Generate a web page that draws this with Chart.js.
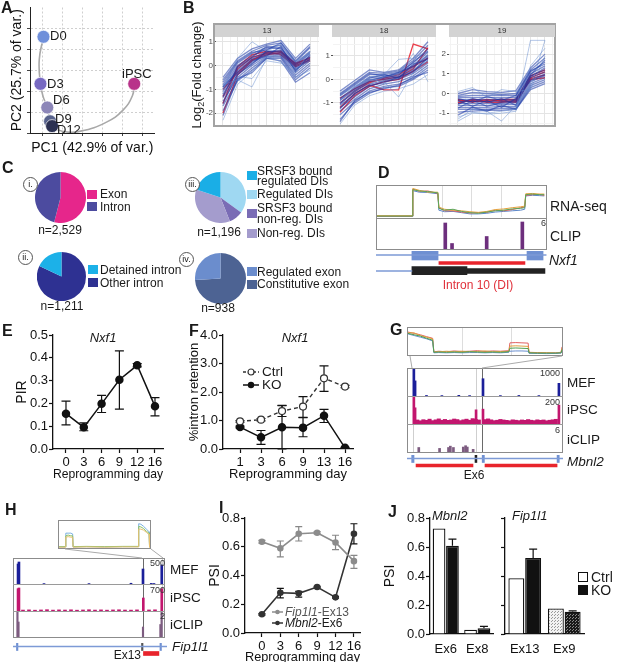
<!DOCTYPE html>
<html>
<head>
  <meta charset="UTF-8">
  <title>Reprogramming figure</title>
  <script src="https://cdn.jsdelivr.net/npm/chart.js@4.4.1/dist/chart.umd.min.js"></script>
  <style>
    body { margin: 0; background: #fff; }
    #fig { position: relative; width: 617px; height: 662px; overflow: hidden;
           font-family: Arial, "Liberation Sans", Helvetica, sans-serif; color: #1a1a1a; }
    #fig canvas, #fig div, #fig svg { position: absolute; }
    .t { white-space: nowrap; line-height: 1; }
  </style>
</head>
<body>
<div id="fig"></div>
<script>
// ---------- data ----------
// A: PCA
const pcaNames = ['D0', 'D3', 'D6', 'D9', 'D12', 'iPSC'];
const pcaX = [0.07, -0.08, 0.26, 0.40, 0.50, 4.59];
const pcaY = [4.6, 2.35, 1.22, 0.56, 0.33, 2.35];
const trajX = [0.07, -0.14, -0.08, 0.05, 0.26, 0.40, 0.50, 1.0, 1.92, 3.21, 4.02, 4.5, 4.59];
const trajY = [4.6, 3.5, 2.35, 1.75, 1.22, 0.56, 0.33, 0.08, 0.09, 0.52, 1.08, 1.78, 2.35];

// B: clusters 13 / 18 / 19, 7 time points
const c13Blue = [
  [-0.5,0.3,0.7,0.9,1.05,0.3,0.9], [-0.6,0.2,0.6,0.85,0.95,0.2,0.8], [-0.8,0.1,0.5,0.75,0.85,0.1,0.6],
  [-0.9,0.0,0.4,0.7,0.75,0.0,0.5], [-1.0,-0.1,0.3,0.6,0.65,-0.05,0.4], [-1.1,-0.2,0.25,0.55,0.6,-0.1,0.35],
  [-1.2,-0.3,0.15,0.5,0.5,-0.2,0.3], [-1.35,-0.4,0.1,0.45,0.45,-0.3,0.2], [-1.5,-0.5,0.0,0.4,0.4,-0.4,0.1],
  [-1.7,-0.6,-0.1,0.35,0.35,-0.5,0.0], [-1.9,-0.65,-0.2,0.3,0.3,-0.6,-0.1], [-2.1,-0.55,-0.3,0.3,0.2,-0.7,-0.3],
  [-0.7,0.15,0.55,0.65,0.95,0.15,0.75], [-1.3,-0.05,0.35,0.8,0.7,0.05,0.55], [-0.9,-0.25,0.2,0.4,0.8,-0.25,0.45],
  [-1.6,-0.35,0.05,0.6,0.55,-0.15,0.25]
];
const c13Faint = [
  [-2.3,-0.8,-0.25,0.4,0.15,-0.5,-0.2], [-1.0,0.3,1.0,0.6,0.9,0.2,0.5],
  [-0.8,-0.6,-0.9,0.3,0.5,-0.1,0.2], [-1.2,-0.45,-0.55,0.2,0.1,-0.3,0.6]
];
const c13Red = [
  [-1.3,-0.15,0.35,0.5,0.5,0.0,0.25], [-1.0,-0.3,0.25,0.45,0.55,0.1,0.3],
  [-1.6,-0.05,0.45,0.6,0.45,-0.05,0.2], [-2.0,-0.4,0.2,0.55,0.6,0.05,0.35]
];
const c18Blue = [
  [-0.5,-0.05,0.4,0.3,0.4,0.9,1.6], [-0.6,-0.15,0.3,0.25,0.35,0.8,1.45], [-0.7,-0.25,0.2,0.2,0.3,0.7,1.3],
  [-0.8,-0.35,0.1,0.1,0.25,0.6,1.15], [-0.9,-0.45,0.0,0.05,0.15,0.5,1.0], [-1.0,-0.55,-0.1,0.0,0.1,0.4,0.9],
  [-1.1,-0.65,-0.2,-0.05,0.05,0.35,0.8], [-1.2,-0.75,-0.3,-0.1,0.0,0.25,0.7], [-1.35,-0.85,-0.4,-0.2,-0.1,0.15,0.6],
  [-1.5,-0.95,-0.5,-0.3,-0.2,0.05,0.5], [-1.7,-1.0,-0.6,-0.35,-0.3,0.0,0.4], [-1.8,-0.9,-0.55,-0.4,-0.25,0.1,0.3],
  [-0.65,-0.2,0.25,0.15,0.2,0.75,1.2], [-1.05,-0.5,-0.05,0.1,0.3,0.55,1.05], [-1.25,-0.6,-0.25,-0.15,0.1,0.3,0.95],
  [-0.85,-0.4,0.05,0.2,0.05,0.65,0.85]
];
const c18Faint = [
  [-0.9,-0.3,0.0,-0.1,-0.75,0.3,0.8], [-0.7,-0.3,0.1,0.2,0.85,0.9,1.2],
  [-1.0,-0.5,-0.2,0.1,0.2,1.1,-0.1], [-1.9,-1.1,-0.7,-0.5,-0.4,-0.2,0.2]
];
const c18Red = [
  [-1.0,-0.5,-0.15,0.05,0.2,0.55,0.9], [-0.8,-0.4,-0.1,0.0,0.1,0.45,1.35],
  [-1.2,-0.6,-0.25,-0.45,-0.45,1.5,1.3], [-1.4,-0.7,-0.3,-0.1,0.0,0.35,0.75]
];
const c19Blue = [
  [0.0,0.2,0.1,0.05,0.15,1.3,2.0], [-0.1,0.05,0.0,-0.05,0.0,1.2,1.8], [-0.15,-0.1,-0.1,-0.1,-0.1,1.1,1.6],
  [-0.2,-0.2,-0.2,-0.2,-0.2,1.0,1.4], [-0.3,-0.3,-0.3,-0.3,-0.3,0.9,1.2], [-0.4,-0.4,-0.4,-0.4,-0.35,0.8,1.1],
  [-0.5,-0.5,-0.5,-0.5,-0.45,0.7,1.0], [-0.6,-0.6,-0.6,-0.55,-0.55,0.6,0.9], [-0.7,-0.7,-0.7,-0.65,-0.65,0.5,0.8],
  [-0.8,-0.8,-0.8,-0.75,-0.75,0.4,0.7], [-0.95,-0.9,-0.85,-0.85,-0.8,0.3,0.6], [-1.1,-0.7,-0.9,-0.6,-0.8,0.2,0.5],
  [-0.25,-0.45,-0.15,-0.35,-0.1,1.15,1.5], [-0.55,-0.25,-0.45,-0.25,-0.6,0.85,1.3], [-0.35,-0.65,-0.35,-0.7,-0.25,0.65,0.95],
  [-0.75,-0.35,-0.65,-0.45,-0.4,0.95,1.7]
];
const c19Faint = [
  [-1.4,-1.0,-1.0,-0.9,-0.8,2.7,2.7], [-1.3,-0.8,-0.9,-1.4,-0.6,0.3,2.7],
  [0.1,0.3,-0.2,0.2,0.1,0.2,1.9], [-1.2,-0.95,-1.05,-1.0,-0.9,1.4,2.3]
];
const c19Red = [
  [-0.35,-0.4,-0.4,-0.35,-0.4,0.75,0.95], [-0.45,-0.35,-0.45,-0.45,-0.35,0.8,1.1],
  [-0.3,-0.45,-0.3,-0.4,-0.45,0.7,0.8], [-0.5,-0.3,-0.35,-0.3,-0.3,0.9,1.2]
];

// C: pies
const pie1Labels = ['Exon', 'Intron'];
const pie1Vals = [54, 46];
const pie2Labels = ['Other intron', 'Detained intron'];
const pie2Vals = [82, 18];
const pie3Labels = ['Regulated DIs', 'SRSF3 bound non-reg. DIs', 'Non-reg. DIs', 'SRSF3 bound regulated DIs'];
const pie3Vals = [35, 9, 36, 20];
const pie4Labels = ['Constitutive exon', 'Regulated exon'];
const pie4Vals = [74, 26];

// D: Nxf1 tracks (genomic position in % of window)
const dPos = [0, 20.8, 21.2, 25, 30, 36, 36.6, 40, 45, 50, 55, 60, 65, 70, 75, 80, 85, 87.4, 88, 92, 96, 99];
const dGreen  = [0.03,0.03,0.88,0.84,0.82,0.78,0.28,0.22,0.25,0.18,0.14,0.12,0.16,0.2,0.22,0.26,0.28,0.3,0.72,0.74,0.72,0.72];
const dOrange = [0.04,0.04,0.92,0.86,0.8,0.8,0.32,0.25,0.22,0.2,0.17,0.15,0.18,0.24,0.26,0.3,0.33,0.35,0.75,0.76,0.74,0.74];
const dRed    = [0.03,0.03,0.9,0.83,0.84,0.76,0.3,0.2,0.2,0.16,0.13,0.14,0.15,0.22,0.2,0.24,0.3,0.32,0.7,0.72,0.73,0.7];
const dBlue   = [0.02,0.02,0.85,0.8,0.79,0.75,0.22,0.17,0.18,0.14,0.1,0.1,0.12,0.16,0.18,0.2,0.22,0.25,0.68,0.7,0.69,0.68];
const dGrid = [38.6, 56.1, 73.7];
const clipPos = [40.4, 44.4, 64.9, 86.0];
const clipVal = [5.2, 1.1, 2.5, 5.4];
const nxf1Rows = ['tx1', 'DI', 'tx2'];
const nxf1Line = [[0, 99.5]];
const nxf1Exons = [[21, 36.3], [88.3, 97.7]];
const nxf1Intron = [[36.8, 87.1]];
const nxf1Tx2Line = [[0, 21]];
const nxf1Cds = [[21, 53.2]];
const nxf1Utr = [[53.2, 98.8]];

// E: PIR
const dayE = ['0', '3', '6', '9', '12', '16'];
const pirMean = [0.155, 0.095, 0.198, 0.304, 0.367, 0.187];
const pirLo = [0.106, 0.08, 0.16, 0.175, 0.36, 0.145];
const pirHi = [0.21, 0.115, 0.235, 0.43, 0.375, 0.225];

// F: % intron retention
const dayF = ['1', '3', '6', '9', '13', '16'];
const ctrlIR = [0.97, 1.03, 1.33, 1.49, 2.48, 2.19];
const ctrlLo = [0.94, 0.99, 1.14, 1.11, 2.02, 2.15];
const ctrlHi = [1.0, 1.07, 1.52, 1.84, 2.92, 2.23];
const koIR = [0.77, 0.41, 0.76, 0.75, 1.17, 0.04];
const koLo = [0.74, 0.16, 0.0, 0.43, 0.93, 0.02];
const koHi = [0.8, 0.65, 1.53, 1.1, 1.39, 0.06];

// G: Mbnl2 tracks
const gcPos = [0,4,8,12,16,16.8,20,25,30,35,40,45,50,55,60,65.5,66.2,70,74,78,78.6,84,90,96,99.4,100];
const gcRed    = [0.85,0.8,0.75,0.68,0.62,0.12,0.14,0.12,0.15,0.13,0.14,0.16,0.13,0.15,0.14,0.16,0.45,0.46,0.45,0.44,0.1,0.09,0.08,0.08,0.1,0.3];
const gcOrange = [0.82,0.82,0.72,0.66,0.6,0.11,0.12,0.14,0.12,0.14,0.12,0.13,0.15,0.12,0.13,0.13,0.33,0.34,0.33,0.32,0.09,0.08,0.08,0.07,0.09,0.25];
const gcGreen  = [0.8,0.75,0.7,0.62,0.55,0.1,0.11,0.1,0.11,0.1,0.12,0.11,0.1,0.11,0.1,0.12,0.25,0.26,0.25,0.24,0.08,0.07,0.07,0.07,0.08,0.2];
const gcBlue   = [0.78,0.72,0.66,0.6,0.52,0.08,0.09,0.08,0.09,0.08,0.09,0.09,0.08,0.09,0.08,0.1,0.14,0.15,0.15,0.14,0.06,0.06,0.05,0.06,0.07,0.15];
const gcGrid = [35.3, 67.3];
const gMefPos = [3.8, 4.6, 12, 22, 33, 40, 48.7, 60, 72, 85, 98];
const gMefVal = [1000, 560, 20, 15, 25, 15, 640, 15, 20, 15, 470];
const gIpscPos = [3.8, 4.6, 44.2, 48.7, 98];
const gIpscVal = [200, 120, 105, 110, 140];
const gNoisePos = [6,8,10,12,14,16,18,20,22,24,26,28,30,32,34,36,38,40,42,44,46,50,52,54,56,58,60,62,64,66,68,70,72,74,76,78,80,82,84,86,88,90,92,94,96];
const gNoiseVal = [30,24,32,27,36,25,31,38,28,34,27,30,37,33,25,31,36,28,40,34,30,33,38,31,25,28,34,30,27,24,31,28,25,30,27,33,28,25,31,27,30,24,28,31,35];
const gClipPos = [7, 20.5, 26.3, 27.5, 29.5, 35.9, 37.4, 38.5, 42.3];
const gClipVal = [1.0, 0.8, 1.0, 1.3, 1.0, 1.1, 1.4, 1.1, 0.6];
const gGuides = [3.8, 44.2, 48.7];
const mbnl2Rows = ['Mbnl2', 'Ex'];
const mbnl2Line = [[0, 100]];
const mbnl2Exons = [[3, 4.5], [48.2, 49.6], [96.2, 97.6]];
const mbnl2Ex6 = [[43.6, 44.8]];
const mbnl2Red = [[5.8, 42.3], [50, 96.2]];

// H: Fip1l1 tracks
const hcPos = [0, 7, 7.5, 10, 13, 15, 15.5, 30, 50, 70, 87, 87.6, 90, 93, 96, 99, 99.5, 100];
const hcGreen = [0.05,0.05,0.45,0.48,0.45,0.45,0.05,0.06,0.05,0.06,0.06,0.8,0.78,0.72,0.62,0.55,0.05,0.05];
const hcBlue  = [0.04,0.04,0.55,0.55,0.55,0.52,0.04,0.05,0.04,0.05,0.05,0.9,0.88,0.8,0.7,0.6,0.04,0.04];
const hcOrange = [0.03,0.03,0.4,0.42,0.4,0.4,0.03,0.04,0.03,0.04,0.04,0.7,0.7,0.66,0.58,0.5,0.03,0.03];
const hMefPos = [2.7, 3.3, 20, 50, 78, 86, 91.5, 93.3, 98.5];
const hMefVal = [400, 440, 8, 8, 15, 300, 12, 10, 380];
const hIpscPos = [2.7, 3.3, 86.2, 98.5];
const hIpscVal = [600, 620, 350, 600];
const hNoisePos = [6,10,14,18,22,26,30,34,38,42,46,50,54,58,62,66,70,74,78,82,90,94];
const hNoiseVal = [25,30,22,28,35,24,30,26,32,22,28,34,25,30,23,29,33,26,24,30,28,32];
const hClipPos = [2.3, 3.0, 86.0, 97.6, 98.4];
const hClipVal = [2, 1.2, 0.8, 1.0, 2];
const hGuides = [86.0, 98.7];
const fipRows = ['Fip1l1', 'Ex'];
const fipLine = [[0, 102.7]];
const fipExons = [[2.3, 3.3], [98, 99]];
const fipEx13 = [[85.7, 86.7]];
const fipRed = [[87, 97.3]];

// I: PSI time course
const dayI = ['0', '3', '6', '9', '12', '16'];
const fipPsi = [0.635, 0.589, 0.69, 0.697, 0.63, 0.50];
const fipLo = [0.625, 0.53, 0.64, 0.69, 0.58, 0.45];
const fipHi = [0.645, 0.64, 0.74, 0.705, 0.68, 0.54];
const mbnPsi = [0.13, 0.28, 0.276, 0.32, 0.248, 0.69];
const mbnLo = [0.125, 0.245, 0.25, 0.315, 0.243, 0.62];
const mbnHi = [0.135, 0.31, 0.29, 0.325, 0.253, 0.76];

// J: PSI bars
const jMbnlExons = ['Ex6', 'Ex8'];
const jMbnlCtrl = [0.728, 0.03];
const jMbnlKO = [0.608, 0.04];
const jMbnlKOHi = [0.654, 0.052];
const jFipExons = ['Ex13', 'Ex9'];
const jFipCtrl = [0.385, 0.176];
const jFipKO = [0.524, 0.153];
const jFipKOHi = [0.585, 0.16];

// ---------- setup ----------
Chart.defaults.font.family = 'Arial, "Liberation Sans", Helvetica, sans-serif';
Chart.defaults.color = '#111';
Chart.defaults.animation = false;
Chart.defaults.responsive = false;
Chart.defaults.events = [];
Chart.defaults.plugins.legend.display = false;
Chart.defaults.plugins.tooltip.enabled = false;

const fig = document.getElementById('fig');

// error bars drawn from errLo/errHi arrays through the y scale
Chart.register({
  id: 'err',
  beforeDatasetsDraw(chart, args, opts) {
    const ctx = chart.ctx, ys = chart.scales.y;
    chart.data.datasets.forEach((ds, i) => {
      if (!ds.errHi) return;
      chart.getDatasetMeta(i).data.forEach((el, j) => {
        const v = ds.data[j];
        const lo = ds.errLo ? ds.errLo[j] : (typeof v === 'object' ? v.y : v);
        const y1 = ys.getPixelForValue(lo), y2 = ys.getPixelForValue(ds.errHi[j]);
        const w = (opts.cap || 8) / 2;
        ctx.save();
        ctx.strokeStyle = ds.errColor || '#111';
        ctx.lineWidth = 1.2;
        ctx.beginPath();
        ctx.moveTo(el.x, y1); ctx.lineTo(el.x, y2);
        ctx.moveTo(el.x - w, y2); ctx.lineTo(el.x + w, y2);
        if (ds.errLo) { ctx.moveTo(el.x - w, y1); ctx.lineTo(el.x + w, y1); }
        ctx.stroke();
        ctx.restore();
      });
    });
  }
});

function mk(x, y, w, h, cfg) {
  const c = document.createElement('canvas');
  c.width = w; c.height = h;
  c.style.left = x + 'px'; c.style.top = y + 'px';
  c.style.width = w + 'px'; c.style.height = h + 'px';
  fig.appendChild(c);
  cfg.options = Object.assign({ devicePixelRatio: 1 }, cfg.options);
  return new Chart(c, cfg);
}

function T(x, cy, html, size, css) {
  const d = document.createElement('div');
  d.className = 't';
  d.innerHTML = html;
  d.style.fontSize = size + 'px';
  d.style.top = (cy - size / 2) + 'px';
  d.style.left = x + 'px';
  if (css) Object.assign(d.style, css);
  fig.appendChild(d);
  return d;
}
const C = (x, cy, html, size, css) => T(x, cy, html, size, Object.assign({ transform: 'translateX(-50%)' }, css || {}));
const R = (x, cy, html, size, css) => T(x, cy, html, size, Object.assign({ transform: 'translateX(-100%)' }, css || {}));
function Tv(cx, cy, html, size) {
  const d = T(cx, cy, html, size);
  d.style.top = cy + 'px';
  d.style.transform = 'translate(-50%,-50%) rotate(-90deg)';
  return d;
}
function rect(x, y, w, h, css) {
  const d = document.createElement('div');
  Object.assign(d.style, { left: x + 'px', top: y + 'px', width: w + 'px', height: h + 'px', boxSizing: 'border-box' }, css);
  fig.appendChild(d);
  return d;
}
const box = (x, y, w, h, col) => rect(x, y, w, h, { border: '1px solid ' + (col || '#8c8c8c') });
const xy = vals => vals.map((v, i) => ({ x: i, y: v }));

// ---------- A ----------
mk(0, 0, 162, 157, {
  type: 'scatter',
  data: { datasets: [
    { data: trajX.map((x, i) => ({ x, y: trajY[i] })), showLine: true, tension: 0.45,
      borderColor: '#a8a8a8', borderWidth: 1.6, pointRadius: 0, order: 2 },
    { data: pcaX.map((x, i) => ({ x, y: pcaY[i] })), pointRadius: 6.5,
      backgroundColor: ['#6f8fda', '#7769c2', '#8c86b8', '#57628c', '#2c3152', '#b8338a'],
      borderColor: 'rgba(255,255,255,0.7)', borderWidth: 1, order: 1 }
  ] },
  options: {
    layout: { padding: { top: 5, right: 2, left: 0, bottom: 0 } },
    scales: {
      x: { type: 'linear', min: -0.6, max: 5.6,
        afterBuildTicks: s => { s.ticks = [0, 1, 2, 3, 4, 5].map(v => ({ value: v })); },
        afterFit: s => { s.height = 24; },
        ticks: { display: false },
        grid: { color: '#cfcfcf', tickLength: 3, tickColor: '#444' },
        border: { color: '#222', dash: [2, 2] },
        title: { display: true, text: 'PC1 (42.9% of var.)', font: { size: 14 }, padding: 0 } },
      y: { min: 0, max: 6,
        afterBuildTicks: s => { s.ticks = [0, 1, 2, 3, 4, 5].map(v => ({ value: v })); },
        afterFit: s => { s.width = 30; },
        ticks: { display: false },
        grid: { color: '#cfcfcf', tickLength: 3, tickColor: '#444' },
        border: { color: '#222', dash: [2, 2] },
        title: { display: true, text: 'PC2 (25.7% of var.)', font: { size: 14 }, padding: { top: 9 } } }
    }
  }
});

// ---------- B ----------
function facet(left, width, xmin, xmax, ymin, ymax, yticks, blue, faint, red) {
  const ds = [];
  faint.forEach(v => ds.push({ data: xy(v), borderColor: 'rgba(95,135,205,0.6)', borderWidth: 0.8 }));
  blue.forEach(v => ds.push({ data: xy(v), borderColor: 'rgba(25,55,165,0.55)', borderWidth: 1.3 }));
  red.forEach(v => ds.push({ data: xy(v), borderColor: 'rgba(232,28,42,0.85)', borderWidth: 1.3 }));
  mk(left - 13, 29, 13 + width, 104, {
    type: 'line',
    data: { datasets: ds },
    options: {
      layout: { padding: { top: 8, bottom: 8, left: 0, right: 0 } },
      elements: { point: { radius: 0 } },
      scales: {
        x: { type: 'linear', min: xmin, max: xmax,
          afterBuildTicks: s => { s.ticks = [-0.5, 0, 0.5, 1, 1.5, 2, 2.5, 3, 3.5, 4, 4.5, 5, 5.5, 6, 6.5].filter(v => v > xmin && v < xmax).map(v => ({ value: v })); },
          afterFit: s => { s.height = 0; },
          ticks: { display: false },
          grid: { drawTicks: false, color: c => (c.tick && Number.isInteger(c.tick.value)) ? '#e4e4e4' : '#f3f3f3' },
          border: { display: false } },
        y: { min: ymin, max: ymax,
          afterBuildTicks: s => { s.ticks = yticks.map(v => ({ value: v })); },
          afterFit: s => { s.width = 13; },
          ticks: { font: { size: 8 }, color: '#4d4d4d', padding: 1, autoSkip: false,
            callback: v => Number.isInteger(v) ? (v < 0 ? '-' + Math.abs(v) : String(v)) : '' },
          grid: { tickLength: 2, color: c => (c.tick && Number.isInteger(c.tick.value)) ? '#e4e4e4' : '#f3f3f3',
            tickColor: c => (c.tick && Number.isInteger(c.tick.value)) ? '#555' : 'rgba(0,0,0,0)' },
          border: { display: false } }
      }
    }
  });
}
facet(216, 103, -0.48, 6.62, -2.5, 1.2, [-2.5, -2, -1.5, -1, -0.5, 0, 0.5, 1], c13Blue, c13Faint, c13Red);
facet(333, 103, -0.48, 6.55, -1.94, 1.8, [-1.5, -1, -0.5, 0, 0.5, 1, 1.5], c18Blue, c18Faint, c18Red);
facet(449, 106, -0.62, 6.69, -1.6, 2.87, [-1.5, -1, -0.5, 0, 0.5, 1, 1.5, 2, 2.5], c19Blue, c19Faint, c19Red);

// ---------- C ----------
function pie(x, y, s, vals, labels, colors) {
  mk(x, y, s, s, {
    type: 'pie',
    data: { labels, datasets: [{ data: vals, backgroundColor: colors, borderWidth: 0 }] },
    options: { layout: { padding: 0 } }
  });
}
pie(35, 172, 51, pie1Vals, pie1Labels, ['#e6268b', '#4c4b9f']);
pie(37, 252, 49, pie2Vals, pie2Labels, ['#2e3192', '#1cb1e8']);
pie(195, 172, 51, pie3Vals, pie3Labels, ['#9fd8f2', '#7a6cb5', '#a49ccd', '#1aaee6']);
pie(195, 253, 51, pie4Vals, pie4Labels, ['#4d6393', '#6b8dcd']);

// ---------- D ----------
function cov(x, y, w, h, pos, series, colors, grid) {
  mk(x, y, w, h, {
    type: 'line',
    data: { datasets: series.map((s, k) => ({ data: pos.map((p, i) => ({ x: p, y: s[i] })),
      borderColor: colors[k], borderWidth: 1, pointRadius: 0 })) },
    options: {
      layout: { padding: 0 },
      scales: {
        x: { type: 'linear', min: 0, max: 100,
          afterBuildTicks: s => { s.ticks = (grid || []).map(v => ({ value: v })); },
          afterFit: s => { s.height = 0; },
          ticks: { display: false }, grid: { drawTicks: false, color: '#dddddd' }, border: { display: false } },
        y: { min: 0, max: 1, display: false }
      }
    }
  });
}
function track(x, y, w, h, layers, max, guides, dark) {
  mk(x, y, w, h, {
    type: 'bar',
    data: { datasets: layers.map(l => ({ data: l.pos.map((p, i) => ({ x: p, y: l.val[i] })),
      backgroundColor: l.color, barThickness: l.thick || 2, grouped: false })) },
    options: {
      layout: { padding: 0 },
      scales: {
        x: { type: 'linear', min: 0, max: 100, offset: false,
          afterBuildTicks: s => { s.ticks = (guides || []).map(v => ({ value: v })); },
          afterFit: s => { s.height = 0; },
          ticks: { display: false },
          grid: { offset: false, drawTicks: false, color: c => (c.tick && c.tick.value === dark) ? '#6a6a6a' : '#cfcfcf' },
          border: { display: false } },
        y: { min: 0, max, display: false }
      }
    }
  });
}
function gene(x, y, w, h, rows, xmax, parts) {
  mk(x, y, w, h, {
    type: 'bar',
    data: { labels: rows, datasets: parts.map(p => ({ data: p.segs.map(s => ({ x: s, y: p.row })),
      backgroundColor: p.color, barThickness: p.thick, grouped: false })) },
    options: {
      indexAxis: 'y',
      layout: { padding: 0 },
      scales: { x: { type: 'linear', min: 0, max: xmax, display: false }, y: { display: false } }
    }
  });
}
const LINE = '#7d9ad6', EXON = '#6f90d2', RED = '#e8242c';

box(376, 185, 171, 34);
box(376, 218, 171, 32);
cov(377, 186, 169, 31, dPos, [dGreen, dOrange, dRed, dBlue], ['#5aa55a', '#e3a23c', '#e05555', '#5b86c8'], dGrid);
track(377, 219, 169, 30, [{ pos: clipPos, val: clipVal, color: '#6d2f7d', thick: 3 }], 6);
gene(376, 251, 171, 24, nxf1Rows, 100, [
  { segs: nxf1Line, row: 'tx1', color: LINE, thick: 1 },
  { segs: nxf1Exons, row: 'tx1', color: EXON, thick: 10 },
  { segs: nxf1Intron, row: 'DI', color: RED, thick: 3 },
  { segs: nxf1Tx2Line, row: 'tx2', color: LINE, thick: 1 },
  { segs: nxf1Cds, row: 'tx2', color: '#222', thick: 9 },
  { segs: nxf1Utr, row: 'tx2', color: '#222', thick: 5 }
]);

// ---------- E ----------
function axisCommon(labels, xmin, xmax, xh) {
  return {
    type: 'linear', min: xmin, max: xmax,
    afterBuildTicks: s => { s.ticks = labels.map((d, i) => ({ value: i })); },
    afterFit: s => { s.height = xh; },
    ticks: { callback: v => labels[v], font: { size: 13 }, padding: 2, maxRotation: 0, autoSkip: false },
    grid: { drawOnChartArea: false, tickLength: 4, tickColor: '#111', tickWidth: 1.2 },
    border: { color: '#111', width: 1.3 },
    title: { display: true, text: 'Reprogramming day', font: { size: 13 }, padding: 0 }
  };
}
function yCommon(max, step, w, title, tpad, tsize) {
  return {
    min: 0, max, ticks: { stepSize: step, callback: v => v.toFixed(1), font: { size: 13 }, padding: 1 },
    afterFit: s => { s.width = w; },
    grid: { drawOnChartArea: false, tickLength: 4, tickColor: '#111', tickWidth: 1.2 },
    border: { color: '#111', width: 1.3 },
    title: { display: !!title, text: title, font: { size: tsize || 14 }, padding: { top: tpad } }
  };
}
mk(0, 323, 173, 159, {
  type: 'line',
  data: { datasets: [{ data: xy(pirMean), errLo: pirLo, errHi: pirHi, borderColor: '#111', borderWidth: 1.5,
    pointRadius: 3.5, pointBackgroundColor: '#111', pointBorderColor: '#111' }] },
  options: {
    layout: { padding: { top: 12, right: 10, left: 0, bottom: 0 } },
    plugins: { err: { cap: 9 } },
    scales: { x: axisCommon(dayE, -0.73, 5.45, 33), y: yCommon(0.5, 0.1, 53, 'PIR', 14) }
  }
});

// ---------- F ----------
mk(185, 323, 178, 159, {
  type: 'line',
  data: { datasets: [
    { data: xy(ctrlIR), errLo: ctrlLo, errHi: ctrlHi, borderColor: '#333', borderWidth: 1.4, borderDash: [4, 3],
      pointRadius: 3.5, pointBackgroundColor: '#fff', pointBorderColor: '#333', pointBorderWidth: 1.2 },
    { data: xy(koIR), errLo: koLo, errHi: koHi, borderColor: '#111', borderWidth: 1.5,
      pointRadius: 3.5, pointBackgroundColor: '#111', pointBorderColor: '#111' }
  ] },
  options: {
    layout: { padding: { top: 12, right: 10, left: 0, bottom: 0 } },
    plugins: { err: { cap: 9 } },
    scales: { x: axisCommon(dayF, -0.81, 5.38, 33), y: yCommon(4, 1, 38, '%intron retention', 2, 13) }
  }
});

// ---------- G ----------
box(407, 327, 156, 29);
cov(408, 328, 154, 27, gcPos, [gcGreen, gcBlue, gcOrange, gcRed], ['#4f9f4f', '#6a8fd0', '#e0a040', '#e06060'], gcGrid);
box(407, 368, 156, 85);
rect(407, 396, 156, 1, { background: '#9a9a9a' });
rect(407, 424, 156, 1, { background: '#9a9a9a' });
track(408, 369, 154, 27, [
  { pos: gMefPos, val: gMefVal, color: '#1b1f9a', thick: 2 }], 1000, gGuides, 48.7);
track(408, 397, 154, 27, [
  { pos: gNoisePos, val: gNoiseVal, color: '#c2166e', thick: 3.4 },
  { pos: gIpscPos, val: gIpscVal, color: '#c2166e', thick: 2 }], 200, gGuides, 48.7);
track(408, 425, 154, 27, [
  { pos: gClipPos, val: gClipVal, color: '#7d5c80', thick: 2 }], 6, gGuides, 48.7);
gene(407, 455, 156, 14, mbnl2Rows, 100, [
  { segs: mbnl2Line, row: 'Mbnl2', color: LINE, thick: 1 },
  { segs: mbnl2Exons, row: 'Mbnl2', color: EXON, thick: 8 },
  { segs: mbnl2Ex6, row: 'Mbnl2', color: '#222', thick: 8 },
  { segs: mbnl2Red, row: 'Ex', color: RED, thick: 3 }
]);

// ---------- H ----------
box(58, 520, 93, 29);
cov(59, 521, 91, 27, hcPos, [hcOrange, hcGreen, hcBlue], ['#e8c070', '#8cc06a', '#7ab0e0']);
box(13, 558, 152, 80);
rect(13, 584, 152, 1, { background: '#9a9a9a' });
rect(13, 611, 152, 1, { background: '#9a9a9a' });
track(14, 559, 150, 25, [{ pos: hMefPos, val: hMefVal, color: '#1b1f9a', thick: 2 }], 500, hGuides, 86.0);
track(14, 585, 150, 26, [
  { pos: hNoisePos, val: hNoiseVal, color: '#c2166e', thick: 3 },
  { pos: hIpscPos, val: hIpscVal, color: '#c2166e', thick: 2 }], 700, hGuides, 86.0);
track(14, 612, 150, 25, [{ pos: hClipPos, val: hClipVal, color: '#7d5c80', thick: 1.5 }], 2, hGuides, 86.0);
gene(13, 643, 154, 14, fipRows, 102.7, [
  { segs: fipLine, row: 'Fip1l1', color: LINE, thick: 1 },
  { segs: fipExons, row: 'Fip1l1', color: EXON, thick: 8 },
  { segs: fipEx13, row: 'Fip1l1', color: '#555', thick: 8 },
  { segs: fipRed, row: 'Ex', color: RED, thick: 4 }
]);

// zoom connector lines for G and H
fig.insertAdjacentHTML('beforeend',
  '<svg width="617" height="662" style="left:0;top:0">' +
  '<line x1="410" y1="356" x2="412" y2="368" stroke="#aaa"/><line x1="562" y1="356" x2="482" y2="368" stroke="#aaa"/>' +
  '<line x1="65" y1="549" x2="142" y2="558" stroke="#aaa"/><line x1="151" y1="549" x2="163" y2="558" stroke="#aaa"/></svg>');

// ---------- I ----------
mk(205, 506, 165, 159, {
  type: 'line',
  data: { datasets: [
    { data: xy(fipPsi), errLo: fipLo, errHi: fipHi, errColor: '#888', borderColor: '#8c8c8c', borderWidth: 1.6,
      pointRadius: 2.5, pointBackgroundColor: '#8c8c8c', pointBorderColor: '#8c8c8c' },
    { data: xy(mbnPsi), errLo: mbnLo, errHi: mbnHi, borderColor: '#333', borderWidth: 1.6,
      pointRadius: 2.5, pointBackgroundColor: '#333', pointBorderColor: '#333' }
  ] },
  options: {
    layout: { padding: { top: 12, right: 10, left: 0, bottom: 0 } },
    plugins: { err: { cap: 7 } },
    scales: { x: axisCommon(dayI, -0.92, 5.33, 32), y: yCommon(0.8, 0.2, 40, 'PSI', 1.6) }
  }
});

// ---------- J ----------
function dots(bg, fg) {
  const c = document.createElement('canvas');
  c.width = 3; c.height = 3;
  const g = c.getContext('2d');
  g.fillStyle = bg; g.fillRect(0, 0, 3, 3);
  g.fillStyle = fg; g.fillRect(0, 0, 1, 1); g.fillRect(2, 1, 1, 1);
  return g.createPattern(c, 'repeat');
}
const ctrlEx9 = dots('#f2f2f2', '#9a9a9a'), koEx9 = dots('#1a1a1a', '#8a8a8a');
function jbars(x, w, yw, labels, ctrl, ko, koHi, showY, pat) {
  mk(x, 506, w, 150, {
    type: 'bar',
    data: { labels, datasets: [
      { data: ctrl, backgroundColor: pat ? [ '#fff', ctrlEx9 ] : '#fff', borderColor: '#111', borderWidth: 1.3,
        borderSkipped: 'bottom' },
      { data: ko, errHi: koHi, backgroundColor: pat ? [ '#111', koEx9 ] : '#111', borderColor: '#111', borderWidth: 1.3,
        borderSkipped: 'bottom' }
    ] },
    options: {
      layout: { padding: { top: 12, right: 2, left: 0, bottom: 0 } },
      plugins: { err: { cap: 8 } },
      datasets: { bar: { categoryPercentage: 0.85, barPercentage: 0.95 } },
      scales: {
        x: { afterFit: s => { s.height = 22; }, ticks: { font: { size: 13 }, padding: 0 },
          grid: { display: false }, border: { color: '#111', width: 1.3 } },
        y: Object.assign(yCommon(0.8, 0.2, yw, showY ? 'PSI' : '', 1.6),
          showY ? {} : { ticks: { stepSize: 0.2, display: false } })
      }
    }
  });
}
jbars(380, 115, 50, jMbnlExons, jMbnlCtrl, jMbnlKO, jMbnlKOHi, true, false);
jbars(495, 91, 10, jFipExons, jFipCtrl, jFipKO, jFipKOHi, false, true);

// ---------- text ----------
const L = { fontWeight: 'bold' };
T(1, 8, 'A', 16, L); T(183, 8, 'B', 16, L); T(2, 168, 'C', 16, L); T(378, 173, 'D', 16, L);
T(2, 331, 'E', 16, L); T(189, 331, 'F', 16, L); T(390, 330, 'G', 16, L); T(5, 510, 'H', 16, L);
T(219, 508, 'I', 16, L); T(388, 512, 'J', 16, L);

// A labels
T(50, 35, 'D0', 13); T(47, 83, 'D3', 13); T(53, 99, 'D6', 13); T(55, 118, 'D9', 13); T(57, 129, 'D12', 13);
T(122, 73, 'iPSC', 13);

// B strips and frame
rect(213, 23, 343, 104, { border: '2px solid #a3a3a3' });
[[215, 104, '13'], [332, 104, '18'], [449, 106, '19']].forEach(([x, w, s]) => {
  rect(x, 25, w, 12, { background: '#d3d3d3' });
  C(x + w / 2, 31, s, 8, { color: '#333' });
});
rect(319, 25, 13, 12, { background: '#fff' });
rect(436, 25, 13, 12, { background: '#fff' });
Tv(198, 75, 'Log<sub style="font-size:9px">2</sub>(Fold change)', 13);

// C legends
function rn(cx, cy, s) {
  const d = rect(cx - 7, cy - 7, 15, 15, { border: '1px solid #555', borderRadius: '50%', background: '#fff' });
  d.innerHTML = '<div class="t" style="position:static;font-size:9px;text-align:center;line-height:13px">' + s + '</div>';
}
rn(30, 184, 'i.'); rn(25, 257, 'ii.'); rn(192, 184, 'iii.'); rn(186, 259, 'iv.');
const sq = (x, y, col) => rect(x, y, 10, 9, { background: col });
sq(87, 190, '#e6268b'); T(100, 194, 'Exon', 12);
sq(87, 202, '#4c4b9f'); T(100, 207, 'Intron', 12);
C(60, 230, 'n=2,529', 12);
sq(88, 265, '#1cb1e8'); T(100, 270, 'Detained intron', 12);
sq(88, 278, '#2e3192'); T(100, 283, 'Other intron', 12);
C(62, 306, 'n=1,211', 12);
sq(247, 171, '#1aaee6'); T(257, 171, 'SRSF3 bound', 12); T(257, 181, 'regulated DIs', 12);
sq(247, 190, '#9fd8f2'); T(257, 194, 'Regulated DIs', 12);
sq(247, 209, '#7a6cb5'); T(257, 208, 'SRSF3 bound', 12); T(257, 219, 'non-reg. DIs', 12);
sq(247, 229, '#a49ccd'); T(257, 233, 'Non-reg. DIs', 12);
C(219, 232, 'n=1,196', 12);
sq(247, 267, '#6b8dcd'); T(257, 272, 'Regulated exon', 12);
sq(247, 280, '#4d6393'); T(257, 284, 'Constitutive exon', 12);
C(218, 308, 'n=938', 12);

// D labels
T(550, 206, 'RNA-seq', 14); T(550, 236, 'CLIP', 14); T(549, 260, '<i>Nxf1</i>', 14);
R(546, 223, '6', 9, { color: '#333' });
C(478, 285, 'Intron 10 (DI)', 12, { color: '#e0303a' });

// E / F titles and legend
C(103, 337, '<i>Nxf1</i>', 13); C(295, 337, '<i>Nxf1</i>', 13);
fig.insertAdjacentHTML('beforeend',
  '<svg width="20" height="30" style="left:242px;top:366px">' +
  '<line x1="1" y1="6" x2="17" y2="6" stroke="#333" stroke-width="1.4" stroke-dasharray="3,2"/>' +
  '<circle cx="9" cy="6" r="3" fill="#fff" stroke="#333" stroke-width="1.2"/>' +
  '<line x1="1" y1="19" x2="17" y2="19" stroke="#111" stroke-width="1.5"/>' +
  '<circle cx="9" cy="19" r="3.2" fill="#111"/></svg>');
T(262, 372, 'Ctrl', 13.5); T(262, 385, 'KO', 13.5);

// G labels
R(560, 373, '1000', 9, { color: '#333' }); R(560, 402, '200', 9, { color: '#333' }); R(560, 430, '6', 9, { color: '#333' });
T(567, 383, 'MEF', 13.5); T(567, 410, 'iPSC', 13.5); T(567, 440, 'iCLIP', 13.5); T(567, 462, '<i>Mbnl2</i>', 13.5);
C(474, 475, 'Ex6', 12);

// H labels
R(165, 563, '500', 9, { color: '#333' }); R(165, 590, '700', 9, { color: '#333' }); R(165, 616, '2', 9, { color: '#333' });
T(170, 570, 'MEF', 13.5); T(170, 598, 'iPSC', 13.5); T(170, 625, 'iCLIP', 13.5); T(172, 647, '<i>Fip1l1</i>', 13.5);
R(141, 655, 'Ex13', 12);

// I legend
fig.insertAdjacentHTML('beforeend',
  '<svg width="14" height="20" style="left:271px;top:607px">' +
  '<line x1="1" y1="5" x2="12" y2="5" stroke="#8c8c8c" stroke-width="1.5"/><circle cx="6.5" cy="5" r="2.3" fill="#8c8c8c"/>' +
  '<line x1="1" y1="16" x2="12" y2="16" stroke="#333" stroke-width="1.5"/><circle cx="6.5" cy="16" r="2.3" fill="#333"/></svg>');
T(285, 612, '<i>Fip1l1</i>-Ex13', 12, { color: '#555' });
T(285, 623, '<i>Mbnl2</i>-Ex6', 12);

// J titles and legend
T(432, 515, '<i>Mbnl2</i>', 13); T(512, 515, '<i>Fip1l1</i>', 13);
rect(578, 572, 10, 10, { border: '1.5px solid #111', background: '#fff' });
rect(578, 585, 10, 10, { background: '#111' });
T(591, 577, 'Ctrl', 14); T(591, 590, 'KO', 14);
</script>
</body>
</html>
